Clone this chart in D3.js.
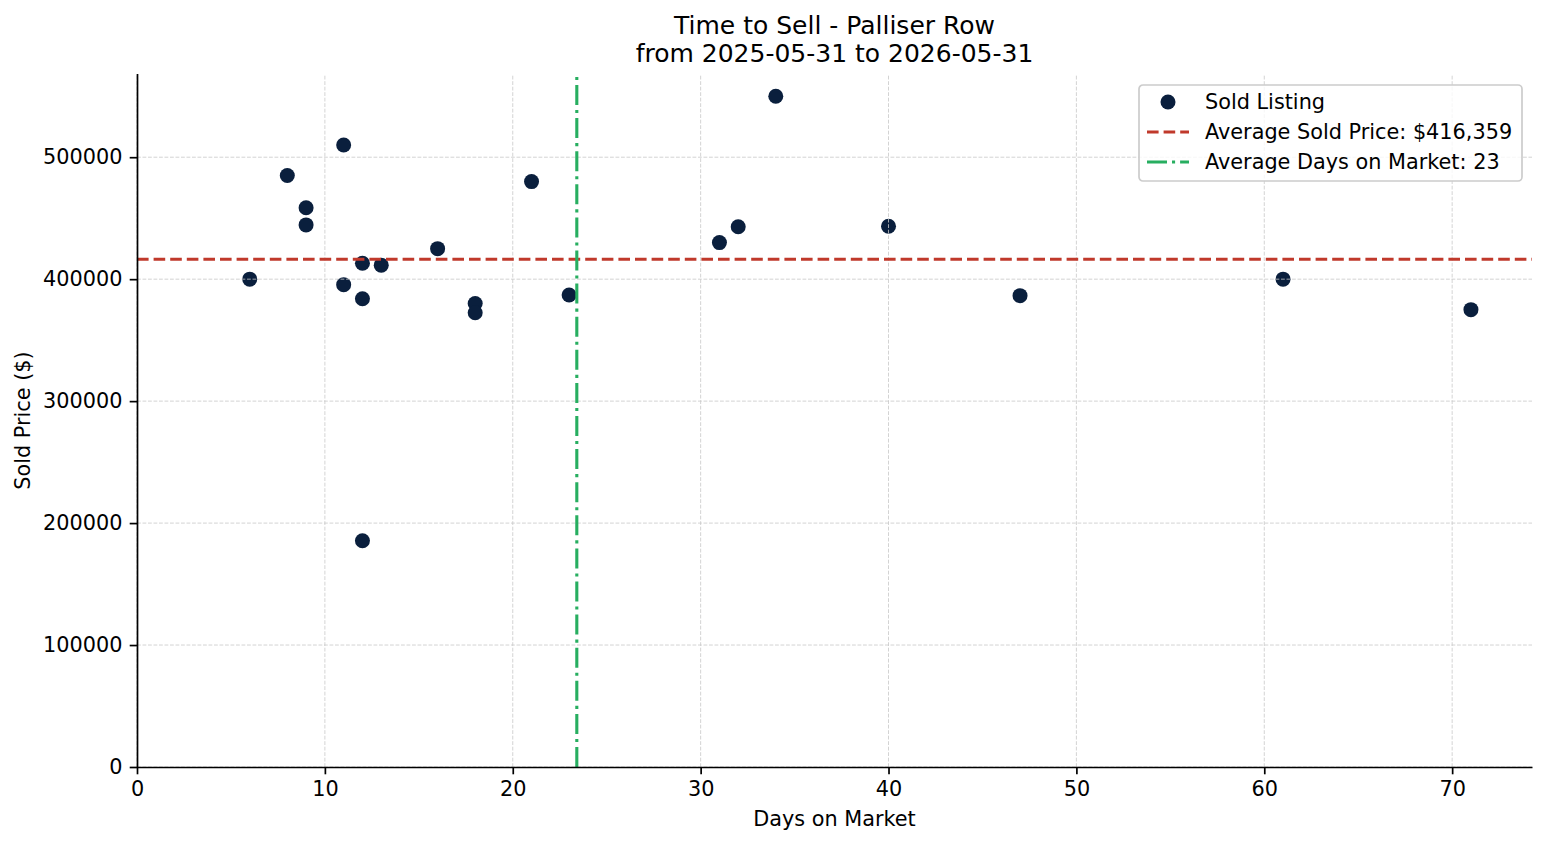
<!DOCTYPE html>
<html>
<head>
<meta charset="utf-8">
<script src="https://cdn.jsdelivr.net/npm/d3@7"></script>
<style>
  body { margin: 0; background: #fff; }
  text { font-family: "DejaVu Sans", sans-serif; fill: #000; }
</style>
</head>
<body>
<div id="chart"></div>
<script>
  // sold listings: days on market and sold price
  const days = [6, 8, 9, 9, 11, 11, 12, 12, 12, 13, 16, 18, 18, 21, 23, 31, 32, 34, 40, 47, 61, 71];
  const prices = [400000, 485000, 458500, 444500, 510000, 395500, 413000, 384000, 185500, 411500, 425000,
                  380000, 372500, 480000, 387000, 430000, 443000, 550000, 443400, 386500, 400000, 375000];
  const xTicks = [0, 10, 20, 30, 40, 50, 60, 70];
  const yTicks = [0, 100000, 200000, 300000, 400000, 500000];
  const titleLines = ['Time to Sell - Palliser Row', 'from 2025-05-31 to 2026-05-31'];

  const width = 1547, height = 845;
  const margin = { left: 137, right: 15, top: 74, bottom: 78 };
  const fs = 20.8;

  const avgPrice = d3.mean(prices);
  const avgDays = d3.mean(days);

  // matplotlib style 5% margins, lower bounds pinned to 0
  const xMax = d3.max(days) + 0.05 * (d3.max(days) - d3.min(days));
  const yMax = d3.max(prices) + 0.05 * (d3.max(prices) - d3.min(prices));

  const x = d3.scaleLinear().domain([0, xMax]).range([margin.left, width - margin.right]);
  const y = d3.scaleLinear().domain([0, yMax]).range([height - margin.bottom, margin.top]);

  const svg = d3.select('#chart').append('svg')
    .attr('width', width)
    .attr('height', height);

  const pts = days.map((d, i) => ({ d, p: prices[i] }));

  // points
  svg.append('g')
    .selectAll('circle')
    .data(pts)
    .join('circle')
    .attr('cx', v => x(v.d))
    .attr('cy', v => y(v.p))
    .attr('r', 7.5)
    .attr('fill', '#0a1f3d');

  // grid (drawn over the markers like matplotlib does)
  const grid = svg.append('g')
    .attr('stroke', '#c8c8c8')
    .attr('stroke-width', 0.8)
    .attr('stroke-dasharray', '3.8,1.7');
  grid.selectAll('.gx').data(xTicks).join('line')
    .attr('x1', d => x(d)).attr('x2', d => x(d))
    .attr('y1', y.range()[0]).attr('y2', y.range()[1]);
  grid.selectAll('.gy').data(yTicks).join('line')
    .attr('y1', d => y(d)).attr('y2', d => y(d))
    .attr('x1', x.range()[0]).attr('x2', x.range()[1]);

  // average lines
  svg.append('line')
    .attr('x1', x.range()[0]).attr('x2', x.range()[1])
    .attr('y1', y(avgPrice)).attr('y2', y(avgPrice))
    .attr('stroke', '#c0392b').attr('stroke-width', 3.1)
    .attr('stroke-dasharray', '11.6,5');
  svg.append('line')
    .attr('x1', x(avgDays)).attr('x2', x(avgDays))
    .attr('y1', y.range()[0]).attr('y2', y.range()[1])
    .attr('stroke', '#27ae60').attr('stroke-width', 3.1)
    .attr('stroke-dasharray', '20,5,3.1,5');

  // axes
  const xAxis = svg.append('g')
    .attr('transform', `translate(0,${height - margin.bottom})`)
    .call(d3.axisBottom(x).tickValues(xTicks).tickFormat(d3.format('d')).tickSize(7.3).tickSizeOuter(0).tickPadding(7.3));
  const yAxis = svg.append('g')
    .attr('transform', `translate(${margin.left},0)`)
    .call(d3.axisLeft(y).tickValues(yTicks).tickFormat(d3.format('d')).tickSize(7.3).tickSizeOuter(0).tickPadding(7.3));
  [xAxis, yAxis].forEach(g => {
    g.select('.domain').attr('stroke', '#000').attr('stroke-width', 1.7);
    g.selectAll('.tick line').attr('stroke', '#000').attr('stroke-width', 1.7);
    g.selectAll('.tick text').style('font-family', '"DejaVu Sans", sans-serif').style('font-size', fs + 'px').attr('fill', '#000');
  });
  yAxis.select('.domain').attr('d', `M0.5,${y.range()[0]}V${y.range()[1]}`);

  // labels
  svg.append('text')
    .attr('x', (x.range()[0] + x.range()[1]) / 2)
    .attr('y', 826)
    .attr('text-anchor', 'middle')
    .style('font-size', fs + 'px')
    .text('Days on Market');
  svg.append('text')
    .attr('transform', `translate(30,${(y.range()[0] + y.range()[1]) / 2}) rotate(-90)`)
    .attr('text-anchor', 'middle')
    .style('font-size', fs + 'px')
    .text('Sold Price ($)');

  svg.append('g').selectAll('text')
    .data(titleLines)
    .join('text')
    .attr('x', (x.range()[0] + x.range()[1]) / 2)
    .attr('y', (d, i) => 34 + i * 28)
    .attr('text-anchor', 'middle')
    .style('font-size', '25px')
    .text(d => d);

  // legend
  const lg = svg.append('g').attr('transform', 'translate(1139,85)');
  lg.append('rect')
    .attr('width', 383).attr('height', 96)
    .attr('rx', 4)
    .attr('fill', '#fff').attr('fill-opacity', 0.8)
    .attr('stroke', '#cccccc').attr('stroke-width', 1.7);
  const legendItems = [
    { label: 'Sold Listing', kind: 'dot' },
    { label: `Average Sold Price: $${d3.format(',')(Math.round(avgPrice))}`, kind: 'dash', color: '#c0392b', dash: '11.6,5' },
    { label: `Average Days on Market: ${Math.round(avgDays)}`, kind: 'dash', color: '#27ae60', dash: '20,5,3.1,5' }
  ];
  legendItems.forEach((it, i) => {
    const cy = 17 + i * 30;
    if (it.kind === 'dot') {
      lg.append('circle').attr('cx', 29).attr('cy', cy).attr('r', 7.5).attr('fill', '#0a1f3d');
    } else {
      lg.append('line')
        .attr('x1', 8).attr('x2', 50).attr('y1', cy).attr('y2', cy)
        .attr('stroke', it.color).attr('stroke-width', 3.1)
        .attr('stroke-dasharray', it.dash);
    }
    lg.append('text')
      .attr('x', 66).attr('y', cy + 7.3)
      .style('font-size', fs + 'px')
      .text(it.label);
  });
</script>
</body>
</html>
